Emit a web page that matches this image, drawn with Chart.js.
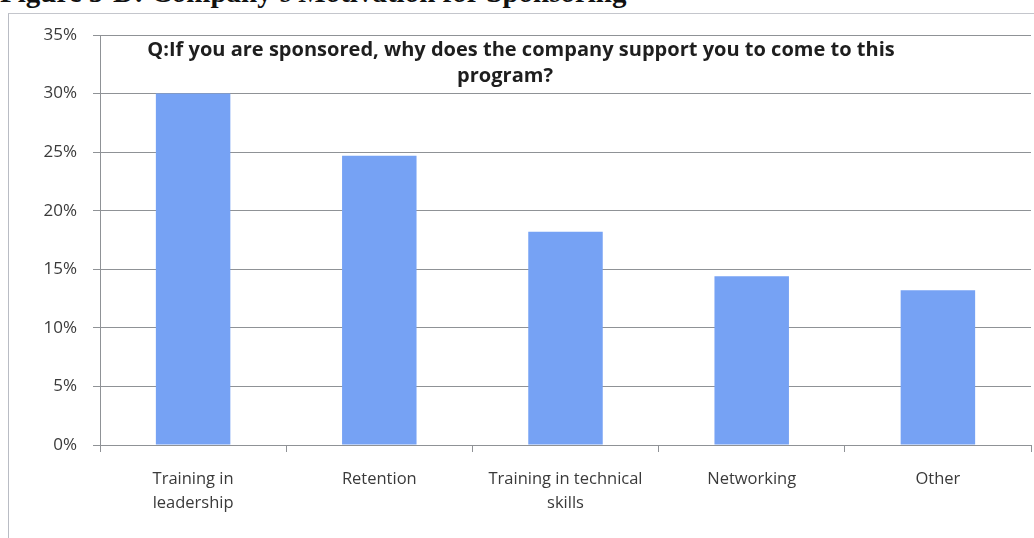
<!DOCTYPE html>
<html>
<head>
<meta charset="utf-8">
<script src="https://cdn.jsdelivr.net/npm/chart.js@4.4.1/dist/chart.umd.min.js"></script>
<style>
  html, body { margin: 0; padding: 0; background: #fff; }
  #page { position: relative; width: 1034px; height: 538px; overflow: hidden; background: #fff; }
  #heading {
    position: absolute; left: 0; top: -24px; margin: 0;
    font-family: "Liberation Serif", "DejaVu Serif", serif; font-weight: bold; font-size: 29px;
    color: #111; white-space: nowrap; line-height: 32px;
  }
  #frame {
    position: absolute; left: 8px; top: 13px; width: 1040px; height: 540px;
    border-left: 1px solid #b9bcc4; border-top: 1px solid #c4c6cc;
  }
  #chart { position: absolute; left: 0; top: 0; }
</style>
</head>
<body>
<div id="page">
  <div id="heading">Figure 5-D: Company's Motivation for Sponsoring</div>
  <div id="frame"></div>
  <canvas id="chart" width="1034" height="538"></canvas>
</div>
<script>
// Survey responses: reasons companies sponsor participants
const categories = [["Training in", "leadership"], "Retention", ["Training in technical", "skills"], "Networking", "Other"];
const shares = [30, 24.7, 18.2, 14.4, 13.2];
const yTicks = [0, 5, 10, 15, 20, 25, 30, 35];
const questionLines = [
  "Q:If you are sponsored, why does the company support you to come to this",
  "program?"
];

const textColor = "#3a3a3a";
const gridColor = "#8f9296";
const uiFont = "'Open Sans', 'Liberation Sans', Arial, sans-serif";

// Question text drawn over the upper part of the plot, first line sized to a 748px run
const questionPlugin = {
  id: "questionText",
  afterDraw(chart) {
    const ctx = chart.ctx;
    ctx.save();
    ctx.font = "bold 19px " + uiFont;
    const w = ctx.measureText(questionLines[0]).width;
    const size = Math.min(22, Math.max(15, 19 * 748 / w));
    ctx.font = "bold " + size.toFixed(2) + "px " + uiFont;
    ctx.fillStyle = "#1e1e1e";
    ctx.textAlign = "center";
    ctx.textBaseline = "middle";
    ctx.fillText(questionLines[0], 521, 50);
    ctx.fillText(questionLines[1], 505, 76);
    ctx.restore();
  }
};

new Chart(document.getElementById("chart"), {
  type: "bar",
  data: {
    labels: categories,
    datasets: [{
      data: shares,
      backgroundColor: "#76a2f4",
      borderWidth: 0,
      categoryPercentage: 1,
      barPercentage: 0.4
    }]
  },
  options: {
    responsive: false,
    animation: false,
    layout: { padding: { left: 0, top: 35, right: 3, bottom: 0 } },
    plugins: {
      legend: { display: false },
      title: { display: false },
      tooltip: { enabled: false }
    },
    scales: {
      x: {
        offset: true,
        grid: {
          offset: true,
          drawOnChartArea: false,
          drawTicks: true,
          tickLength: 7,
          color: gridColor
        },
        border: { color: gridColor, width: 1 },
        ticks: {
          color: textColor,
          padding: 15,
          maxRotation: 0,
          autoSkip: false,
          font: { family: uiFont, size: 16.5, lineHeight: 1.45 }
        },
        afterFit(scale) { scale.height = 93; }
      },
      y: {
        min: 0,
        max: 35,
        afterBuildTicks(scale) { scale.ticks = yTicks.map(v => ({ value: v })); },
        grid: {
          color: gridColor,
          lineWidth: 1,
          drawTicks: true,
          tickLength: 7
        },
        border: { color: gridColor, width: 1 },
        ticks: {
          color: textColor,
          padding: 16,
          font: { family: uiFont, size: 17 },
          callback: v => v + "%"
        },
        afterFit(scale) { scale.width = 100; }
      }
    }
  },
  plugins: [questionPlugin]
});
</script>
</body>
</html>
